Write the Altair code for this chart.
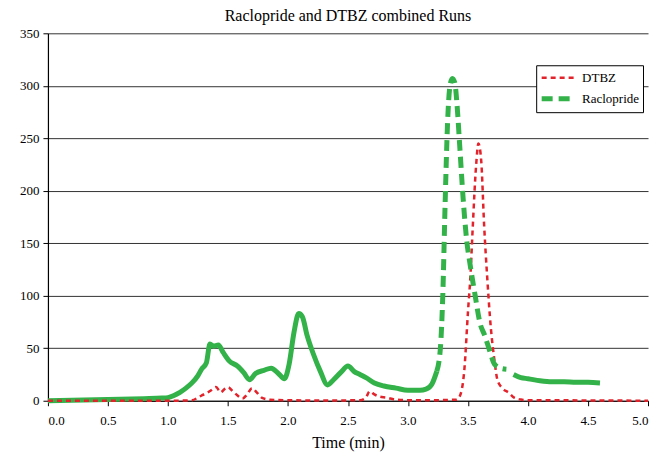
import altair as alt
import pandas as pd

# Raclopride (green) trace
rac_t = [0.0, 0.2, 0.4, 0.6, 0.8, 0.95, 1.0, 1.05, 1.1, 1.15, 1.2, 1.25, 1.28, 1.32, 1.35, 1.38,
         1.42, 1.46, 1.51, 1.58, 1.63, 1.68, 1.73, 1.8, 1.86, 1.92, 1.97, 2.01, 2.05, 2.09, 2.12,
         2.16, 2.21, 2.27, 2.33, 2.38, 2.44, 2.5, 2.55, 2.6, 2.65, 2.72, 2.8, 2.9, 3.0, 3.1, 3.15,
         3.2, 3.24, 3.27, 3.29, 3.31, 3.33, 3.35, 3.37, 3.39, 3.41, 3.43, 3.46, 3.49, 3.52, 3.56,
         3.6, 3.64, 3.68, 3.72, 3.77, 3.82, 3.88, 3.94, 4.0, 4.1, 4.2, 4.3, 4.4, 4.5, 4.6]
rac_v = [0, 0.5, 1, 1.5, 2, 2.5, 3, 5, 8, 12, 17, 24, 30, 36, 54, 52,
         53, 46, 38, 33, 27, 20, 26, 29, 31, 26, 21, 35, 65, 83, 80,
         62, 45, 28, 15, 20, 27, 33, 28, 25, 22, 17, 14, 12, 10, 10, 11,
         16, 28, 50, 100, 190, 265, 300, 307, 303, 280, 245, 192, 152, 128, 100,
         74, 62, 48, 35, 31, 30, 25, 22, 21, 19, 18, 18, 17.5, 17.5, 17]

# DTBZ (red) trace
dtbz_t = [0.0, 0.5, 1.0, 1.2, 1.25, 1.28, 1.32, 1.36, 1.40, 1.44, 1.47, 1.50, 1.54, 1.58, 1.62,
          1.66, 1.70, 1.74, 1.78, 1.85, 2.0, 2.2, 2.4, 2.6, 2.65, 2.68, 2.72, 2.76, 2.82, 2.9,
          3.0, 3.2, 3.4, 3.43, 3.47, 3.50, 3.52, 3.54, 3.567, 3.587, 3.61, 3.635, 3.66, 3.69,
          3.72, 3.745, 3.786, 3.84, 3.885, 3.95, 4.0, 4.5, 5.0]
dtbz_v = [0, 0, 0, 0.5, 3, 5, 7, 10, 13, 8, 11, 13, 9, 5, 2,
          6, 12, 8, 3, 1, 0.5, 0.3, 0.3, 0.5, 3, 9, 6, 4, 3, 1,
          0.5, 0.5, 1, 4, 30, 85, 118, 166, 223, 245, 229, 166, 118, 70,
          39, 20, 12, 7.6, 3, 1, 0.5, 0.3, 0]

x_ticks = [0.0, 0.5, 1.0, 1.5, 2.0, 2.5, 3.0, 3.5, 4.0, 4.5, 5.0]
y_ticks = [0, 50, 100, 150, 200, 250, 300, 350]

series_names = ["DTBZ", "Raclopride"]
RED = "#e2232b"
GREEN = "#33b249"

rac = pd.DataFrame({"t": rac_t, "v": rac_v, "series": "Raclopride"})
dtbz = pd.DataFrame({"t": dtbz_t, "v": dtbz_v, "series": "DTBZ"})

dash_start, dash_end = 3.24, 3.86
rac_dash = rac[(rac.t >= dash_start) & (rac.t <= dash_end)]
rac_solid = rac[(rac.t <= dash_start) | (rac.t >= dash_end)].copy()
rac_solid["part"] = [0 if t <= dash_start else 2 for t in rac_solid.t]

serif = "Liberation Serif"

x_enc = alt.X("t:Q", scale=alt.Scale(domain=[0, 5], nice=False),
              axis=alt.Axis(values=x_ticks, format=".1f", title="Time (min)", grid=False))
y_enc = alt.Y("v:Q", scale=alt.Scale(domain=[0, 350], nice=False),
              axis=alt.Axis(values=y_ticks, title=None, grid=True))

color_scale = alt.Scale(domain=series_names, range=[RED, GREEN])
dash_scale = alt.Scale(domain=series_names, range=[[5, 4], [11, 6]])
width_scale = alt.Scale(domain=series_names, range=[2.5, 5])

legend = alt.Legend(title=None, orient="none", legendX=489, legendY=32,
                    symbolType="M-2,0L2,0", symbolSize=256, strokeColor="black",
                    padding=3, fillColor="white", labelFont=serif, labelFontSize=13,
                    labelColor="black", rowPadding=3, symbolOffset=8, labelOffset=14)

base_all = pd.concat([dtbz, rac_dash])

dashed = alt.Chart(base_all).mark_line(strokeCap="butt", interpolate="monotone").encode(
    x=x_enc, y=y_enc,
    color=alt.Color("series:N", scale=color_scale, legend=legend),
    strokeDash=alt.StrokeDash("series:N", scale=dash_scale, legend=legend),
    strokeWidth=alt.StrokeWidth("series:N", scale=width_scale, legend=legend),
)

solid = alt.Chart(rac_solid).mark_line(color=GREEN, strokeWidth=5, strokeJoin="round",
                                       interpolate="monotone").encode(
    x=alt.X("t:Q"), y=alt.Y("v:Q"), detail="part:N"
)

chart = alt.layer(solid, dashed).properties(
    width=601, height=368,
    title=alt.TitleParams("Raclopride and DTBZ combined Runs", font=serif, fontSize=16,
                          fontWeight="normal", color="black", offset=3),
    autosize=alt.AutoSizeParams(type="none"),
    padding={"left": 40, "top": 25, "right": 2, "bottom": 54},
).configure_view(stroke=None).configure_axis(
    labelFont=serif, labelFontSize=13, labelColor="black",
    titleFont=serif, titleFontSize=16, titleColor="black", titleFontWeight="normal",
    domainColor="black", tickColor="black", tickSize=5, gridColor="#333333",
    gridWidth=1, domainWidth=1.2,
).configure_axisX(labelPadding=9, titlePadding=7).configure_axisY(labelPadding=4, domain=True)

chart.save("out.html", embed_options={"renderer": "svg", "actions": False})
